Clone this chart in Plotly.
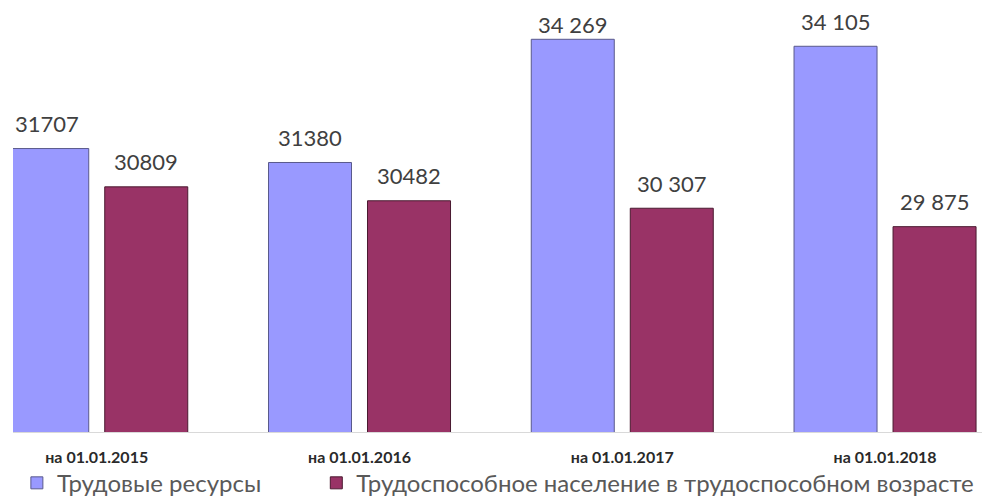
import plotly.graph_objects as go

# ---- data ----
categories = ["на 01.01.2015", "на 01.01.2016", "на 01.01.2017", "на 01.01.2018"]
series_names = ["Трудовые ресурсы", "Трудоспособное население в трудоспособном возрасте"]
labour_resources = [31707, 31380, 34269, 34105]
working_age_pop = [30809, 30482, 30307, 29875]
labour_labels = ["31707", "31380", "34 269", "34 105"]
working_labels = ["30809", "30482", "30 307", "29 875"]

# ---- style ----
FONT = "Lato"
COL_BLUE = "#9999FF"
COL_MAROON = "#993366"
BARGAP = 0.2464
BARGROUPGAP = 0.1616
SLOT = (1 - BARGAP) / 2

x_idx = list(range(len(categories)))

fig = go.Figure()
fig.add_trace(go.Bar(
    x=x_idx, y=labour_resources, name=series_names[0], legend="legend",
    marker=dict(color=COL_BLUE, line=dict(color="#5A5A8C", width=1)),
))
fig.add_trace(go.Bar(
    x=x_idx, y=working_age_pop, name=series_names[1], legend="legend2",
    marker=dict(color=COL_MAROON, line=dict(color="#4A1A30", width=1)),
))

# value labels above bars
annotations = []
for si, (vals, labs) in enumerate([(labour_resources, labour_labels), (working_age_pop, working_labels)]):
    off = -SLOT / 2 if si == 0 else SLOT / 2
    for i, (v, t) in enumerate(zip(vals, labs)):
        shift = 25
        if si == 0 and i == 2:
            shift = 15
        annotations.append(dict(
            x=i + off, y=v, xref="x", yref="y", text=t, showarrow=False,
            yanchor="middle", yshift=shift,
            font=dict(family=FONT, size=22, color="#404040"),
        ))

legend_style = dict(
    orientation="h", yanchor="middle", y=-0.12,
    font=dict(family=FONT, size=24, color="#595959"),
    itemclick=False, bgcolor="rgba(0,0,0,0)", itemwidth=30,
    tracegroupgap=0,
)

fig.update_layout(
    width=982, height=501,
    margin=dict(l=13, r=0, t=5, b=69, autoexpand=False),
    paper_bgcolor="white", plot_bgcolor="white",
    barmode="group", bargap=BARGAP, bargroupgap=BARGROUPGAP,
    showlegend=True,
    legend=dict(legend_style, x=0.004, xanchor="left"),
    legend2=dict(legend_style, x=0.313, xanchor="left"),
    annotations=annotations,
    xaxis=dict(
        range=[-0.3187, 3.369],
        tickmode="array", tickvals=x_idx, ticktext=categories,
        tickfont=dict(family=FONT, size=16, color="#2A2A2A", weight="bold"),
        showline=True, linecolor="#D9D9D9", linewidth=1,
        showgrid=False, zeroline=False, ticks="", ticklabelstandoff=11,
    ),
    yaxis=dict(
        range=[25060, 35073], visible=False, showgrid=False, zeroline=False,
    ),
)

fig.write_html(
    "out.html",
    config={"displayModeBar": False},
    post_script="document.body.style.margin='0';document.body.style.overflow='hidden';",
)
